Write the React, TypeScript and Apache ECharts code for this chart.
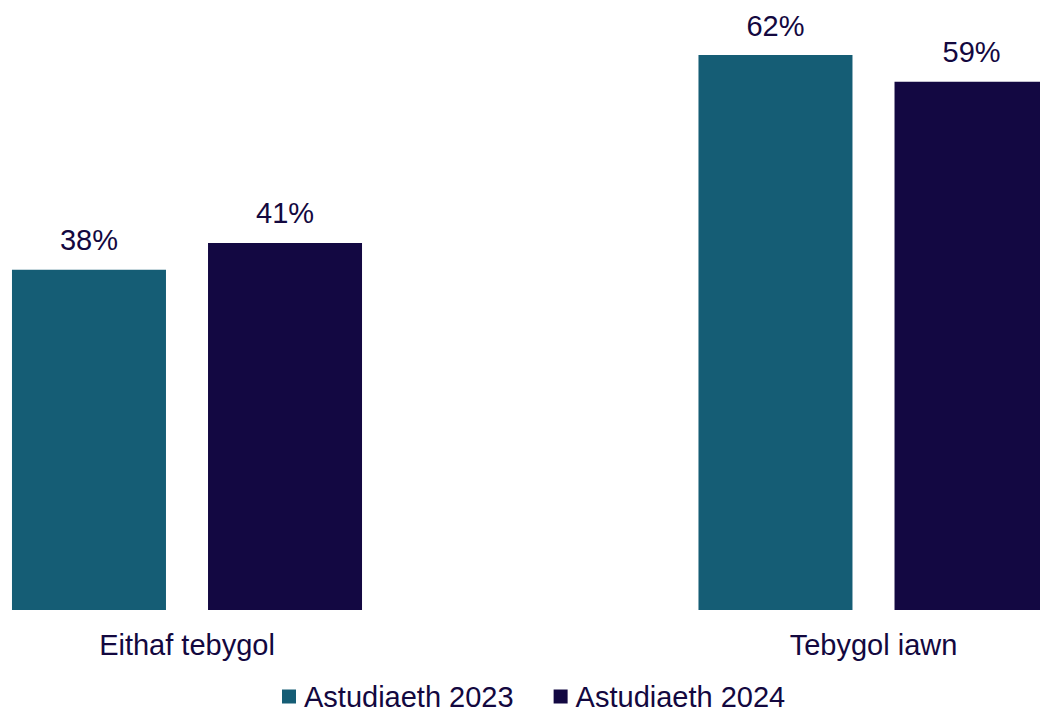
import React, { useEffect, useRef } from "react";
import * as echarts from "echarts";

const categories = ["Eithaf tebygol", "Tebygol iawn"];
const seriesNames = ["Astudiaeth 2023", "Astudiaeth 2024"];
const values2023 = [38, 62];
const values2024 = [41, 59];

const TEXT = "#13083f";
const FONT = "'Liberation Sans', Arial, sans-serif";

export default function App() {
  const ref = useRef<HTMLDivElement>(null);
  useEffect(() => {
    const chart = echarts.init(ref.current!, null, { renderer: "svg" });
    const label = {
      show: true,
      position: "top",
      distance: 15,
      formatter: "{c}%",
      color: TEXT,
      fontSize: 29,
      fontFamily: FONT,
    };
    chart.setOption({
      animation: false,
      textStyle: { fontFamily: FONT },
      grid: { left: 187, right: 166.5, top: 55, bottom: 104, containLabel: false },
      legend: {
        left: 282,
        top: 682,
        padding: 0,
        itemWidth: 14,
        itemHeight: 14,
        itemGap: 40,
        icon: "rect",
        textStyle: { color: TEXT, fontSize: 29, lineHeight: 24, fontFamily: FONT, padding: [0, 0, 0, 3] },
        data: seriesNames,
      },
      xAxis: {
        type: "category",
        data: categories,
        boundaryGap: false,
        axisLine: { show: false },
        axisTick: { show: false },
        splitLine: { show: false },
        axisLabel: { color: TEXT, fontSize: 29, fontFamily: FONT, margin: 20 },
      },
      yAxis: {
        type: "value",
        min: 0,
        max: 62,
        show: false,
        splitLine: { show: false },
      },
      series: [
        {
          name: seriesNames[0],
          type: "bar",
          data: values2023,
          barWidth: 154,
          barGap: "27.3%",
          clip: false,
          itemStyle: { color: "#155d75" },
          label,
        },
        {
          name: seriesNames[1],
          type: "bar",
          data: values2024,
          barWidth: 154,
          clip: false,
          itemStyle: { color: "#130842" },
          label,
        },
      ],
    });
    return () => chart.dispose();
  }, []);
  return <div ref={ref} style={{ width: 1040, height: 714, position: "absolute", left: 0, top: 0 }} />;
}
